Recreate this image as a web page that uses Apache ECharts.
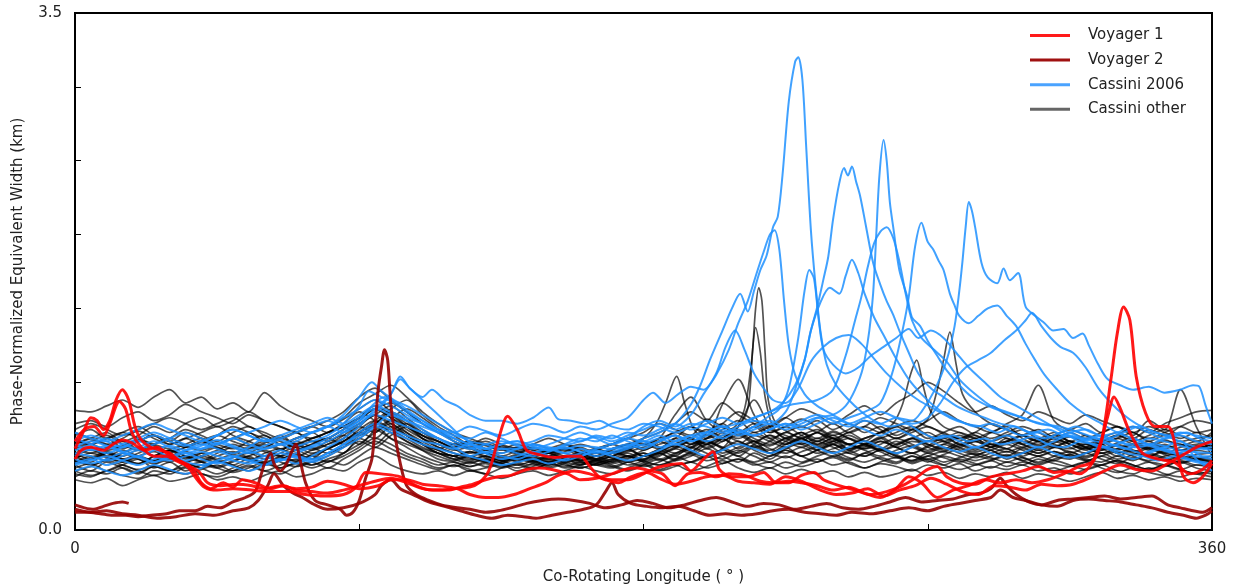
<!DOCTYPE html>
<html><head><meta charset="utf-8">
<script src="https://cdn.jsdelivr.net/npm/echarts@6/dist/echarts.min.js"></script>
<style>html,body{margin:0;padding:0;background:#fff}#c{width:1239px;height:588px}</style>
</head><body><div id="c"></div>
<script>
// ---------- DATA (longitude in degrees, width in km) ----------
const xTicks = [0, 90, 180, 270, 360];
const yTicks = [0.0, 0.5, 1.0, 1.5, 2.0, 2.5, 3.0, 3.5];
const legendNames = ["Voyager 1", "Voyager 2", "Cassini 2006", "Cassini other"];

// common longitude grid for Cassini "other" profiles
const lonGrid = [0,5,10,15,20,25,30,35,40,45,50,55,60,65,70,75,80,85,90,95,100,105,110,115,120,125,130,135,140,145,150,155,160,165,170,175,180,185,190,195,200,205,210,215,220,225,230,235,240,245,250,255,260,265,270,275,280,285,290,295,300,305,310,315,320,325,330,335,340,345,350,355,360];

const cassOther01 = [0.81,0.80,0.84,0.88,0.83,0.90,0.95,0.86,0.90,0.82,0.86,0.80,0.93,0.84,0.78,0.74,0.70,0.75,0.82,0.88,0.80,0.72,0.66,0.62,0.58,0.60,0.55,0.52,0.56,0.54,0.50,0.53,0.56,0.52,0.55,0.58,0.54,0.60,0.64,0.58,0.62,0.70,0.66,0.60,0.64,0.58,0.62,0.57,0.60,0.55,0.58,0.62,0.56,0.60,0.58,0.55,0.60,0.64,0.58,0.55,0.60,0.57,0.62,0.58,0.55,0.60,0.64,0.70,0.66,0.72,0.76,0.80,0.81];
const cassOther02 = [0.72,0.74,0.70,0.76,0.80,0.74,0.78,0.85,0.80,0.76,0.72,0.78,0.74,0.70,0.66,0.70,0.74,0.80,0.90,0.96,0.88,0.80,0.72,0.66,0.62,0.58,0.60,0.56,0.54,0.58,0.55,0.52,0.50,0.54,0.58,0.62,0.66,0.72,0.68,0.64,0.75,0.70,0.66,0.72,0.68,0.64,0.60,0.66,0.62,0.58,0.62,0.66,0.70,0.64,0.60,0.62,0.66,0.62,0.58,0.60,0.56,0.60,0.64,0.60,0.58,0.62,0.66,0.62,0.68,0.64,0.70,0.74,0.72];
const cassOther03 = [0.60,0.58,0.62,0.56,0.60,0.64,0.58,0.62,0.66,0.70,0.64,0.60,0.56,0.62,0.66,0.60,0.62,0.68,0.76,0.84,0.78,0.70,0.64,0.58,0.55,0.52,0.54,0.50,0.48,0.52,0.50,0.47,0.50,0.48,0.52,0.55,0.50,0.53,0.58,0.62,0.55,0.60,0.64,0.58,0.54,0.60,0.66,0.58,0.62,0.55,0.58,0.54,0.57,0.62,0.56,0.53,0.58,0.55,0.60,0.64,0.58,0.54,0.57,0.52,0.56,0.60,0.54,0.58,0.55,0.52,0.56,0.58,0.60];
const cassOther04 = [0.50,0.46,0.52,0.48,0.45,0.50,0.54,0.48,0.52,0.56,0.50,0.47,0.52,0.55,0.50,0.54,0.58,0.62,0.70,0.66,0.74,0.66,0.58,0.52,0.50,0.46,0.48,0.45,0.50,0.47,0.44,0.48,0.46,0.44,0.47,0.50,0.46,0.50,0.55,0.52,0.58,0.62,0.55,0.60,0.52,0.56,0.50,0.54,0.58,0.52,0.50,0.54,0.50,0.47,0.52,0.49,0.46,0.50,0.54,0.48,0.52,0.50,0.47,0.51,0.48,0.46,0.50,0.47,0.52,0.49,0.46,0.48,0.50];
const cassOther05 = [0.42,0.45,0.40,0.44,0.48,0.42,0.46,0.40,0.44,0.42,0.46,0.50,0.44,0.47,0.52,0.48,0.55,0.52,0.62,0.58,0.66,0.60,0.54,0.48,0.46,0.43,0.45,0.42,0.44,0.41,0.45,0.43,0.46,0.44,0.42,0.46,0.48,0.52,0.47,0.50,0.55,0.50,0.46,0.52,0.48,0.54,0.50,0.46,0.50,0.47,0.52,0.48,0.45,0.50,0.47,0.44,0.48,0.45,0.42,0.46,0.44,0.48,0.45,0.43,0.46,0.50,0.46,0.43,0.46,0.44,0.41,0.44,0.42];
const cassOther06 = [0.38,0.36,0.40,0.37,0.35,0.40,0.38,0.42,0.38,0.36,0.40,0.44,0.40,0.38,0.43,0.46,0.42,0.48,0.54,0.60,0.55,0.50,0.46,0.42,0.44,0.40,0.42,0.44,0.40,0.43,0.46,0.42,0.44,0.46,0.43,0.40,0.44,0.48,0.44,0.46,0.50,0.45,0.48,0.44,0.46,0.42,0.45,0.48,0.44,0.46,0.42,0.45,0.43,0.40,0.44,0.42,0.45,0.40,0.43,0.41,0.44,0.40,0.42,0.38,0.41,0.44,0.40,0.38,0.42,0.38,0.36,0.39,0.38];
const cassOther07 = [0.34,0.32,0.35,0.30,0.34,0.37,0.33,0.35,0.38,0.34,0.36,0.33,0.37,0.40,0.36,0.38,0.42,0.40,0.46,0.50,0.44,0.40,0.38,0.40,0.37,0.40,0.38,0.35,0.38,0.40,0.37,0.40,0.43,0.40,0.38,0.42,0.45,0.41,0.44,0.40,0.43,0.47,0.42,0.39,0.42,0.38,0.41,0.38,0.40,0.36,0.39,0.36,0.38,0.41,0.37,0.39,0.35,0.38,0.36,0.39,0.35,0.38,0.36,0.33,0.36,0.39,0.35,0.37,0.34,0.36,0.33,0.35,0.34];
const cassOther08 = [0.55,0.52,0.56,0.60,0.55,0.58,0.62,0.57,0.54,0.58,0.62,0.66,0.60,0.64,0.58,0.62,0.66,0.72,0.80,0.74,0.68,0.72,0.64,0.60,0.56,0.60,0.57,0.54,0.56,0.52,0.55,0.58,0.54,0.50,0.53,0.50,0.54,0.58,0.62,0.70,0.64,0.85,1.02,0.78,0.66,0.70,0.64,0.60,0.66,0.62,0.58,0.62,0.66,0.70,0.64,0.60,0.64,0.60,0.66,0.70,0.62,0.58,0.62,0.58,0.55,0.58,0.62,0.58,0.55,0.58,0.54,0.56,0.55];
const cassOther09 = [0.46,0.50,0.47,0.52,0.56,0.50,0.54,0.50,0.47,0.52,0.56,0.52,0.58,0.54,0.60,0.56,0.52,0.58,0.66,0.72,0.80,0.74,0.66,0.60,0.55,0.50,0.52,0.48,0.51,0.48,0.46,0.49,0.52,0.48,0.50,0.54,0.58,0.55,0.62,0.58,0.66,0.72,0.64,0.70,0.62,0.58,0.64,0.68,0.62,0.58,0.55,0.60,0.56,0.52,0.57,0.62,0.58,0.54,0.58,0.55,0.52,0.56,0.60,0.56,0.52,0.55,0.50,0.54,0.50,0.47,0.50,0.48,0.46];
const cassOther10 = [0.64,0.68,0.62,0.66,0.70,0.64,0.60,0.66,0.62,0.58,0.55,0.60,0.64,0.58,0.62,0.66,0.70,0.76,0.86,0.92,0.98,0.90,0.80,0.72,0.66,0.62,0.58,0.55,0.58,0.54,0.52,0.55,0.52,0.55,0.58,0.55,0.60,0.56,0.52,0.58,0.62,0.68,0.74,0.66,0.70,0.76,0.70,0.74,0.68,0.72,0.66,0.70,0.64,0.68,0.62,0.66,0.70,0.64,0.60,0.64,0.68,0.62,0.66,0.60,0.64,0.58,0.62,0.66,0.60,0.64,0.60,0.62,0.64];
const cassOther11 = [0.44,0.40,0.46,0.42,0.38,0.43,0.40,0.45,0.42,0.47,0.44,0.40,0.45,0.42,0.46,0.50,0.46,0.52,0.58,0.66,0.72,0.64,0.58,0.52,0.48,0.50,0.46,0.49,0.46,0.44,0.47,0.44,0.42,0.45,0.48,0.44,0.47,0.52,0.48,0.53,0.58,0.52,0.56,0.60,0.55,0.52,0.56,0.52,0.55,0.58,0.54,0.50,0.54,0.57,0.52,0.56,0.52,0.49,0.52,0.55,0.50,0.54,0.50,0.48,0.52,0.48,0.45,0.49,0.46,0.43,0.47,0.44,0.44];
const cassOther12 = [0.52,0.56,0.50,0.54,0.50,0.47,0.52,0.56,0.60,0.55,0.52,0.56,0.53,0.50,0.54,0.58,0.62,0.68,0.74,0.82,0.76,0.68,0.62,0.58,0.54,0.56,0.52,0.50,0.53,0.50,0.48,0.50,0.47,0.50,0.53,0.50,0.47,0.51,0.55,0.60,0.56,0.62,0.66,0.60,0.57,0.62,0.58,0.54,0.58,0.62,0.58,0.55,0.60,0.56,0.53,0.58,0.62,0.57,0.54,0.50,0.55,0.52,0.56,0.53,0.50,0.54,0.58,0.54,0.50,0.54,0.51,0.54,0.52];
const cassOther13 = [0.58,0.62,0.66,0.60,0.64,0.70,0.66,0.72,0.76,0.70,0.74,0.80,0.74,0.70,0.66,0.62,0.66,0.70,0.64,0.72,0.78,0.70,0.62,0.56,0.52,0.48,0.50,0.47,0.44,0.47,0.50,0.46,0.44,0.47,0.45,0.48,0.52,0.47,0.51,0.55,0.60,0.55,0.50,0.56,0.52,0.58,0.62,0.56,0.60,0.66,0.60,0.56,0.52,0.56,0.60,0.64,0.58,0.62,0.56,0.60,0.64,0.68,0.62,0.58,0.54,0.58,0.52,0.56,0.60,0.55,0.58,0.56,0.58];
const cassOther14 = [0.48,0.52,0.49,0.46,0.50,0.53,0.49,0.46,0.50,0.47,0.44,0.48,0.45,0.49,0.46,0.44,0.48,0.52,0.60,0.56,0.64,0.70,0.62,0.56,0.52,0.49,0.46,0.50,0.47,0.50,0.52,0.49,0.51,0.48,0.46,0.50,0.46,0.44,0.48,0.52,0.49,0.55,0.60,0.54,0.50,0.55,0.59,0.54,0.50,0.53,0.57,0.53,0.49,0.52,0.48,0.51,0.55,0.51,0.48,0.51,0.47,0.50,0.53,0.50,0.47,0.50,0.53,0.50,0.47,0.50,0.52,0.49,0.48];
const cassOther15 = [0.40,0.43,0.47,0.44,0.41,0.44,0.48,0.45,0.42,0.38,0.42,0.46,0.50,0.46,0.43,0.46,0.50,0.56,0.64,0.70,0.62,0.56,0.50,0.46,0.43,0.46,0.43,0.46,0.49,0.46,0.43,0.46,0.49,0.52,0.49,0.46,0.50,0.54,0.50,0.56,0.52,0.48,0.53,0.57,0.52,0.49,0.53,0.56,0.52,0.48,0.52,0.55,0.51,0.47,0.50,0.46,0.49,0.52,0.49,0.46,0.49,0.45,0.48,0.51,0.47,0.44,0.47,0.44,0.41,0.44,0.46,0.42,0.40];
const cassOther16 = [0.66,0.62,0.58,0.62,0.67,0.62,0.58,0.62,0.58,0.64,0.70,0.66,0.62,0.58,0.54,0.58,0.62,0.58,0.66,0.74,0.82,0.88,0.78,0.70,0.64,0.58,0.62,0.58,0.55,0.58,0.62,0.58,0.55,0.52,0.55,0.58,0.62,0.66,0.72,0.80,0.74,0.86,0.78,0.72,0.66,0.70,0.75,0.70,0.64,0.68,0.74,0.68,0.62,0.66,0.70,0.65,0.62,0.66,0.72,0.68,0.64,0.60,0.64,0.68,0.64,0.60,0.64,0.60,0.64,0.68,0.64,0.60,0.66];
const cassOther17 = [0.36,0.40,0.38,0.42,0.39,0.43,0.40,0.38,0.41,0.44,0.40,0.43,0.40,0.44,0.48,0.44,0.47,0.44,0.50,0.56,0.52,0.48,0.44,0.41,0.44,0.41,0.38,0.42,0.45,0.42,0.45,0.48,0.44,0.47,0.44,0.41,0.44,0.40,0.43,0.46,0.42,0.45,0.48,0.45,0.42,0.46,0.43,0.46,0.49,0.45,0.42,0.46,0.49,0.45,0.48,0.44,0.41,0.44,0.47,0.43,0.46,0.43,0.40,0.43,0.46,0.42,0.39,0.42,0.39,0.37,0.40,0.38,0.36];
const cassOther18 = [0.56,0.60,0.64,0.58,0.54,0.58,0.62,0.68,0.64,0.60,0.66,0.70,0.64,0.60,0.56,0.60,0.56,0.62,0.70,0.78,0.72,0.66,0.60,0.55,0.58,0.55,0.52,0.55,0.52,0.50,0.52,0.55,0.58,0.55,0.52,0.55,0.50,0.53,0.57,0.53,0.60,0.56,0.68,0.62,0.58,0.62,0.66,0.62,0.67,0.62,0.58,0.63,0.58,0.62,0.66,0.60,0.56,0.60,0.56,0.62,0.58,0.55,0.59,0.63,0.59,0.55,0.59,0.62,0.58,0.61,0.57,0.60,0.56];
const cassOther19 = [0.62,0.58,0.62,0.66,0.62,0.58,0.55,0.58,0.62,0.58,0.62,0.58,0.55,0.58,0.62,0.66,0.60,0.66,0.72,0.78,0.84,0.76,0.68,0.62,0.58,0.55,0.58,0.55,0.52,0.56,0.53,0.56,0.52,0.55,0.58,0.62,0.58,0.62,0.66,0.70,0.66,0.72,0.80,0.74,0.70,0.76,0.82,0.78,0.72,0.78,0.84,0.78,0.86,0.92,1.00,0.94,0.86,0.80,0.84,0.78,0.74,0.80,0.76,0.72,0.78,0.74,0.70,0.66,0.70,0.66,0.62,0.66,0.62];
const cassOther20 = [0.47,0.44,0.48,0.52,0.48,0.45,0.49,0.46,0.50,0.54,0.58,0.54,0.50,0.54,0.58,0.55,0.60,0.64,0.58,0.68,0.75,0.82,0.76,0.68,0.60,0.56,0.52,0.55,0.52,0.50,0.53,0.50,0.47,0.50,0.46,0.49,0.52,0.48,0.52,0.56,0.60,0.56,0.52,0.58,0.64,0.60,0.56,0.60,0.56,0.52,0.56,0.60,0.56,0.52,0.56,0.60,0.56,0.53,0.56,0.60,0.64,0.60,0.56,0.60,0.56,0.52,0.55,0.52,0.50,0.53,0.50,0.48,0.47];
const cassOther21 = [0.52,0.48,0.52,0.48,0.52,0.56,0.52,0.49,0.52,0.48,0.51,0.48,0.44,0.48,0.51,0.48,0.52,0.56,0.62,0.68,0.62,0.58,0.54,0.50,0.47,0.50,0.47,0.45,0.48,0.45,0.42,0.45,0.48,0.45,0.43,0.46,0.43,0.46,0.50,0.46,0.50,0.54,0.50,0.46,0.50,0.54,0.50,0.54,0.58,0.54,0.50,0.54,0.50,0.46,0.50,0.53,0.50,0.47,0.50,0.53,0.49,0.46,0.50,0.53,0.49,0.52,0.48,0.51,0.55,0.51,0.48,0.51,0.52];
const cassOther22 = [0.50,0.54,0.50,0.46,0.50,0.47,0.50,0.53,0.49,0.46,0.49,0.52,0.48,0.52,0.56,0.52,0.55,0.60,0.66,0.62,0.70,0.64,0.58,0.54,0.50,0.53,0.50,0.47,0.50,0.47,0.50,0.54,0.50,0.47,0.50,0.53,0.56,0.60,0.56,0.62,0.68,0.62,0.58,0.64,0.60,0.56,0.62,0.66,0.72,0.66,0.70,0.76,0.72,0.68,0.74,0.80,0.74,0.70,0.66,0.72,0.78,0.98,0.74,0.68,0.72,0.66,0.70,0.64,0.74,0.68,0.95,0.70,0.50];
const cassOther23 = [0.55,0.58,0.54,0.57,0.61,0.57,0.53,0.56,0.60,0.56,0.52,0.55,0.59,0.62,0.58,0.54,0.58,0.64,0.72,0.78,0.70,0.64,0.58,0.54,0.50,0.53,0.49,0.46,0.49,0.46,0.49,0.46,0.50,0.47,0.50,0.54,0.50,0.55,0.60,0.56,0.64,0.60,0.70,0.88,0.70,0.62,0.58,0.62,0.58,0.54,0.58,0.54,0.58,0.62,0.58,0.54,0.57,0.60,0.56,0.53,0.56,0.52,0.56,0.60,0.56,0.52,0.55,0.58,0.54,0.57,0.54,0.57,0.55];
const cassOther24 = [0.46,0.49,0.53,0.50,0.54,0.50,0.46,0.50,0.46,0.43,0.47,0.50,0.54,0.50,0.47,0.51,0.55,0.60,0.68,0.74,0.68,0.62,0.56,0.52,0.48,0.45,0.48,0.45,0.42,0.45,0.48,0.45,0.42,0.45,0.48,0.52,0.48,0.52,0.56,0.62,0.58,0.64,0.60,0.56,0.60,0.66,0.62,0.58,0.62,0.58,0.55,0.58,0.62,0.58,0.54,0.58,0.54,0.51,0.54,0.58,0.54,0.50,0.53,0.49,0.52,0.56,0.52,0.48,0.51,0.48,0.45,0.48,0.46];
const cassOther25 = [0.68,0.72,0.68,0.64,0.68,0.72,0.76,0.72,0.68,0.72,0.76,0.70,0.66,0.62,0.66,0.70,0.66,0.70,0.76,0.82,0.86,0.80,0.72,0.66,0.60,0.56,0.58,0.55,0.52,0.55,0.52,0.49,0.52,0.55,0.52,0.55,0.58,0.62,0.78,0.90,0.74,0.66,0.62,0.66,0.62,0.66,0.70,0.66,0.62,0.66,0.70,0.66,0.70,0.74,0.70,0.66,0.62,0.66,0.62,0.66,0.70,0.66,0.62,0.66,0.62,0.66,0.70,0.66,0.62,0.66,0.70,0.66,0.68];
const cassOther26 = [0.40,0.37,0.40,0.44,0.40,0.37,0.40,0.43,0.46,0.42,0.39,0.42,0.46,0.42,0.45,0.42,0.46,0.50,0.56,0.62,0.58,0.52,0.48,0.44,0.46,0.43,0.46,0.43,0.46,0.49,0.46,0.50,0.47,0.44,0.47,0.50,0.47,0.44,0.47,0.51,0.47,0.50,0.54,0.50,0.46,0.50,0.46,0.50,0.53,0.49,0.46,0.49,0.46,0.50,0.46,0.50,0.47,0.44,0.47,0.50,0.47,0.44,0.47,0.44,0.41,0.44,0.47,0.44,0.41,0.44,0.41,0.38,0.40];

// Cassini "other" profiles with narrow spikes, as [longitude, width] pairs
const cassOtherSpike1 = [[0,0.58],[5,0.62],[10,0.58],[15,0.55],[20,0.60],[25,0.64],[30,0.60],[35,0.56],[40,0.60],[45,0.64],[50,0.60],[55,0.57],[60,0.60],[65,0.55],[70,0.58],[75,0.62],[80,0.66],[85,0.70],[90,0.76],[95,0.82],[100,0.76],[105,0.70],[110,0.64],[115,0.60],[120,0.56],[125,0.58],[130,0.54],[135,0.57],[140,0.53],[145,0.56],[150,0.52],[155,0.55],[160,0.52],[165,0.50],[170,0.54],[175,0.58],[180,0.55],[185,0.60],[190,0.66],[195,0.62],[200,0.58],[205,0.62],[210,0.70],[213,0.82],[214.5,1.20],[215.5,1.50],[216.5,1.64],[217.5,1.55],[218.5,1.20],[219.5,0.88],[222,0.72],[226,0.66],[230,0.62],[235,0.66],[240,0.60],[245,0.64],[250,0.60],[255,0.66],[260,0.62],[265,0.68],[270,0.75],[273,0.95],[275,1.15],[277,1.34],[279,1.12],[281,0.92],[285,0.80],[290,0.72],[295,0.68],[300,0.64],[305,0.60],[310,0.64],[315,0.60],[320,0.56],[325,0.60],[330,0.64],[335,0.60],[340,0.56],[345,0.60],[350,0.58],[355,0.55],[360,0.58]];
const cassOtherSpike2 = [[0,0.45],[5,0.48],[10,0.52],[15,0.48],[20,0.45],[25,0.50],[30,0.54],[35,0.50],[40,0.46],[45,0.50],[50,0.53],[55,0.49],[60,0.46],[65,0.50],[70,0.54],[75,0.50],[80,0.55],[85,0.60],[90,0.66],[95,0.72],[100,0.66],[105,0.60],[110,0.55],[115,0.52],[120,0.50],[125,0.47],[130,0.50],[135,0.47],[140,0.50],[145,0.47],[150,0.44],[155,0.48],[160,0.45],[165,0.48],[170,0.52],[175,0.56],[180,0.62],[184,0.72],[187,0.86],[190.5,1.04],[193,0.86],[196,0.68],[200,0.62],[205,0.66],[209,0.70],[212,0.82],[214,1.10],[215.5,1.37],[217,1.20],[218.5,0.90],[221,0.70],[225,0.62],[230,0.66],[235,0.60],[240,0.64],[245,0.58],[250,0.62],[255,0.66],[259,0.72],[262,0.85],[264.5,1.05],[266.5,1.15],[268.5,0.98],[271,0.80],[275,0.70],[280,0.66],[285,0.62],[290,0.66],[295,0.62],[300,0.58],[305,0.62],[310,0.58],[315,0.55],[320,0.58],[325,0.54],[330,0.57],[335,0.53],[340,0.56],[345,0.52],[350,0.50],[355,0.47],[360,0.45]];

// Cassini 2006 profiles
const cass2006a = [[0,0.50],[5,0.55],[10,0.52],[15,0.56],[20,0.60],[25,0.55],[30,0.50],[35,0.54],[40,0.58],[45,0.55],[50,0.52],[55,0.56],[60,0.62],[65,0.58],[70,0.60],[75,0.66],[80,0.70],[85,0.78],[90,0.90],[94,1.00],[97,0.94],[101,0.88],[105,0.84],[110,0.78],[115,0.72],[120,0.66],[125,0.60],[130,0.58],[135,0.55],[140,0.55],[145,0.58],[150,0.56],[155,0.55],[160,0.57],[165,0.56],[170,0.55],[175,0.57],[180,0.62],[185,0.66],[190,0.72],[195,0.85],[198,0.98],[201,1.15],[205,1.35],[208,1.50],[210.6,1.60],[213,1.48],[215,1.62],[217,1.76],[219,1.86],[221,2.05],[222.5,2.12],[224,2.40],[226,2.90],[228,3.17],[229,3.20],[230.3,3.05],[231.5,2.60],[233,2.03],[234.5,1.65],[236,1.35],[238,1.12],[241,0.98],[245,0.88],[249,0.80],[253,0.74],[258,0.70],[263,0.72],[268,0.66],[273,0.62],[278,0.64],[283,0.60],[288,0.62],[293,0.58],[298,0.60],[303,0.63],[308,0.58],[313,0.56],[318,0.60],[323,0.62],[328,0.58],[333,0.55],[338,0.58],[343,0.55],[348,0.52],[353,0.54],[357,0.50],[360,0.50]];
const cass2006b = [[0,0.62],[5,0.58],[10,0.55],[15,0.58],[20,0.62],[25,0.66],[30,0.62],[35,0.58],[40,0.55],[45,0.58],[50,0.62],[55,0.58],[60,0.55],[65,0.58],[70,0.62],[75,0.66],[80,0.70],[85,0.66],[90,0.72],[95,0.78],[100,0.74],[105,0.70],[110,0.66],[115,0.62],[120,0.58],[125,0.55],[130,0.58],[135,0.60],[140,0.57],[145,0.55],[150,0.58],[155,0.62],[160,0.66],[165,0.62],[170,0.58],[175,0.62],[180,0.70],[185,0.74],[190,0.70],[195,0.78],[199,0.92],[203,1.05],[207,1.22],[210,1.40],[213,1.55],[216,1.75],[218,1.88],[220,2.00],[221.5,2.03],[223,1.90],[224.5,1.55],[226,1.25],[228,1.05],[231,0.92],[235,0.84],[240,0.78],[245,0.72],[250,0.68],[255,0.64],[260,0.68],[265,0.64],[270,0.60],[275,0.64],[280,0.60],[285,0.56],[290,0.60],[295,0.64],[300,0.60],[305,0.56],[310,0.60],[315,0.64],[320,0.60],[325,0.56],[330,0.58],[335,0.62],[340,0.58],[345,0.62],[350,0.66],[355,0.64],[360,0.62]];
const cass2006c = [[0,0.45],[5,0.48],[10,0.44],[15,0.47],[20,0.50],[25,0.46],[30,0.49],[35,0.52],[40,0.48],[45,0.45],[50,0.49],[55,0.53],[60,0.50],[65,0.47],[70,0.52],[75,0.56],[80,0.60],[85,0.66],[90,0.74],[95,0.80],[100,0.92],[103,1.04],[106,0.96],[110,0.90],[113,0.95],[117,0.88],[121,0.84],[125,0.78],[130,0.74],[135,0.74],[140,0.72],[145,0.76],[150,0.83],[153,0.75],[157,0.74],[162,0.72],[166,0.74],[170,0.70],[175,0.68],[180,0.72],[185,0.70],[190,0.66],[195,0.70],[200,0.74],[205,0.70],[210,0.72],[215,0.76],[220,0.80],[224,0.86],[228,0.98],[231,1.15],[233,1.35],[235,1.51],[237,1.70],[238.5,1.85],[240,2.10],[242,2.35],[243.5,2.45],[244.7,2.40],[246,2.46],[247.3,2.36],[248.6,2.26],[250.5,2.05],[252.7,1.81],[255,1.66],[257,1.55],[259,1.46],[261,1.35],[264,1.20],[267,1.06],[271,0.96],[275,0.90],[279,0.84],[283,0.80],[288,0.76],[293,0.72],[298,0.70],[303,0.66],[308,0.68],[313,0.64],[318,0.62],[323,0.60],[328,0.58],[333,0.55],[338,0.52],[343,0.55],[348,0.52],[353,0.48],[357,0.46],[360,0.45]];
const cass2006d = [[0,0.52],[5,0.50],[10,0.47],[15,0.50],[20,0.54],[25,0.50],[30,0.47],[35,0.50],[40,0.53],[45,0.50],[50,0.47],[55,0.45],[60,0.48],[65,0.52],[70,0.49],[75,0.46],[80,0.50],[85,0.56],[90,0.62],[95,0.70],[100,0.78],[105,0.74],[110,0.68],[115,0.62],[120,0.56],[125,0.50],[130,0.47],[135,0.44],[140,0.46],[145,0.48],[150,0.45],[155,0.48],[160,0.52],[165,0.55],[170,0.58],[175,0.62],[180,0.60],[185,0.64],[190,0.60],[195,0.64],[200,0.66],[205,0.62],[210,0.66],[215,0.64],[220,0.68],[225,0.72],[230,0.70],[235,0.76],[240,0.78],[244,0.84],[247,0.95],[249.5,1.10],[251.5,1.35],[252.7,1.60],[253.7,2.00],[254.7,2.40],[256,2.64],[257,2.50],[258,2.22],[259.2,2.03],[261,1.76],[263.5,1.58],[265,1.44],[267.6,1.38],[270,1.28],[273,1.18],[276,1.08],[280,0.98],[284,0.90],[289,0.84],[294,0.80],[300,0.76],[306,0.72],[312,0.70],[318,0.66],[324,0.62],[330,0.60],[336,0.56],[342,0.58],[348,0.55],[354,0.53],[360,0.52]];
const cass2006e = [[0,0.66],[5,0.62],[10,0.60],[15,0.64],[20,0.68],[25,0.72],[30,0.68],[35,0.64],[40,0.60],[45,0.64],[50,0.68],[55,0.64],[60,0.60],[65,0.62],[70,0.66],[75,0.70],[80,0.74],[85,0.70],[90,0.76],[95,0.82],[100,0.78],[105,0.74],[110,0.70],[115,0.66],[120,0.62],[125,0.58],[130,0.55],[135,0.58],[140,0.60],[145,0.56],[150,0.54],[155,0.58],[160,0.62],[165,0.60],[170,0.64],[175,0.60],[180,0.57],[185,0.60],[190,0.64],[195,0.60],[200,0.66],[205,0.70],[210,0.66],[215,0.70],[220,0.74],[225,0.70],[230,0.74],[235,0.78],[240,0.74],[245,0.70],[250,0.74],[255,0.72],[260,0.76],[265,0.74],[268,0.80],[272,0.94],[276,1.15],[278.5,1.38],[280,1.62],[281,1.82],[282,2.05],[283,2.22],[284,2.16],[285,2.05],[287,1.81],[289,1.71],[292,1.67],[294,1.77],[296,1.69],[298.6,1.74],[301,1.51],[304.6,1.44],[307,1.40],[309.7,1.35],[313,1.36],[316,1.30],[319,1.33],[321,1.25],[324,1.12],[327,1.02],[331,0.98],[335,0.95],[340,0.97],[345,0.93],[350,0.95],[354,0.98],[356,0.97],[358,0.84],[360,0.72]];
const cass2006f = [[0,0.56],[5,0.60],[10,0.57],[15,0.53],[20,0.56],[25,0.60],[30,0.56],[35,0.52],[40,0.55],[45,0.59],[50,0.56],[55,0.52],[60,0.55],[65,0.58],[70,0.54],[75,0.57],[80,0.62],[85,0.68],[90,0.74],[94,0.84],[98,0.90],[102,0.86],[106,0.80],[110,0.74],[115,0.68],[120,0.64],[125,0.62],[130,0.66],[135,0.62],[140,0.58],[145,0.60],[150,0.64],[155,0.62],[160,0.60],[165,0.64],[170,0.62],[175,0.66],[180,0.64],[185,0.68],[190,0.72],[195,0.68],[200,0.72],[205,0.76],[210,0.72],[215,0.76],[220,0.80],[225,0.84],[230,0.86],[235,0.88],[240,0.95],[244,1.18],[247,1.42],[249,1.58],[251,1.78],[253,1.94],[255,2.02],[257,2.05],[259,1.98],[261,1.82],[263,1.60],[265,1.42],[268,1.30],[272,1.22],[276,1.14],[280,1.02],[285,0.92],[290,0.84],[295,0.80],[300,0.76],[305,0.72],[310,0.70],[315,0.66],[320,0.62],[325,0.64],[330,0.60],[335,0.58],[340,0.62],[345,0.60],[350,0.57],[355,0.55],[360,0.56]];
const cass2006g = [[0,0.48],[5,0.45],[10,0.48],[15,0.52],[20,0.49],[25,0.46],[30,0.50],[35,0.46],[40,0.44],[45,0.47],[50,0.50],[55,0.47],[60,0.44],[65,0.47],[70,0.50],[75,0.48],[80,0.52],[85,0.58],[90,0.66],[95,0.72],[100,0.68],[105,0.64],[110,0.60],[115,0.58],[120,0.55],[125,0.58],[130,0.55],[135,0.52],[140,0.55],[145,0.58],[150,0.55],[155,0.52],[160,0.55],[165,0.52],[170,0.55],[175,0.58],[180,0.55],[185,0.60],[190,0.64],[195,0.60],[200,0.64],[205,0.68],[210,0.64],[215,0.68],[220,0.72],[225,0.68],[230,0.72],[235,0.76],[240,0.72],[245,0.76],[250,0.80],[255,0.86],[259,1.08],[262,1.35],[264,1.58],[266,1.92],[268,2.08],[270,1.95],[271.7,1.90],[273.5,1.82],[275,1.76],[277,1.60],[278.5,1.52],[280,1.45],[283,1.40],[286,1.45],[289,1.50],[292,1.52],[295,1.45],[298,1.38],[301,1.26],[304,1.15],[307,1.05],[311,0.95],[315,0.86],[320,0.78],[325,0.72],[330,0.66],[335,0.62],[340,0.58],[345,0.55],[350,0.52],[355,0.50],[360,0.48]];
const cass2006h = [[0,0.58],[5,0.54],[10,0.57],[15,0.53],[20,0.50],[25,0.54],[30,0.57],[35,0.54],[40,0.57],[45,0.61],[50,0.57],[55,0.54],[60,0.57],[65,0.61],[70,0.57],[75,0.60],[80,0.64],[85,0.72],[90,0.84],[93,0.94],[97,0.90],[101,0.86],[105,0.80],[110,0.74],[115,0.68],[120,0.62],[125,0.58],[130,0.55],[135,0.58],[140,0.60],[145,0.57],[150,0.54],[155,0.57],[160,0.60],[165,0.63],[170,0.60],[175,0.64],[180,0.68],[185,0.72],[190,0.68],[195,0.72],[200,0.70],[205,0.66],[210,0.70],[215,0.74],[220,0.72],[225,0.80],[228,0.95],[231,1.15],[233,1.35],[236,1.54],[239,1.64],[242,1.60],[244,1.72],[246,1.83],[248,1.74],[250,1.60],[253,1.44],[256,1.32],[260,1.16],[264,1.02],[268,0.92],[272,0.84],[276,0.78],[280,0.74],[285,0.70],[290,0.72],[295,0.68],[300,0.64],[305,0.66],[310,0.62],[315,0.66],[320,0.68],[325,0.64],[330,0.66],[335,0.70],[340,0.66],[345,0.62],[350,0.64],[355,0.60],[360,0.58]];
const cass2006i = [[0,0.44],[5,0.47],[10,0.50],[15,0.47],[20,0.44],[25,0.48],[30,0.51],[35,0.47],[40,0.50],[45,0.53],[50,0.50],[55,0.47],[60,0.50],[65,0.54],[70,0.50],[75,0.47],[80,0.52],[85,0.58],[90,0.64],[95,0.70],[100,0.66],[105,0.62],[110,0.58],[115,0.55],[120,0.52],[125,0.50],[130,0.53],[135,0.50],[140,0.48],[145,0.52],[150,0.55],[155,0.52],[160,0.50],[165,0.54],[170,0.52],[175,0.55],[180,0.58],[185,0.62],[190,0.58],[195,0.62],[200,0.66],[205,0.70],[210,0.66],[215,0.70],[219,0.76],[223,0.82],[226,0.96],[229,1.30],[231,1.62],[232.5,1.76],[234,1.70],[235.5,1.42],[237,1.22],[240,1.12],[244,1.06],[248,1.10],[252,1.18],[256,1.24],[260,1.30],[264,1.36],[267,1.30],[271,1.35],[275,1.30],[279,1.20],[283,1.10],[288,1.00],[293,0.90],[298,0.84],[303,0.78],[308,0.72],[313,0.66],[318,0.60],[323,0.58],[328,0.55],[333,0.52],[338,0.50],[343,0.47],[348,0.50],[353,0.47],[357,0.45],[360,0.44]];
const cass2006j = [[0,0.54],[5,0.58],[10,0.62],[15,0.58],[20,0.55],[25,0.58],[30,0.62],[35,0.66],[40,0.62],[45,0.58],[50,0.62],[55,0.66],[60,0.70],[65,0.74],[70,0.70],[75,0.66],[80,0.70],[85,0.76],[90,0.82],[95,0.88],[100,0.84],[105,0.78],[110,0.72],[115,0.66],[120,0.60],[125,0.56],[130,0.52],[135,0.55],[140,0.52],[145,0.50],[150,0.53],[155,0.56],[160,0.53],[165,0.50],[170,0.53],[175,0.56],[180,0.60],[185,0.56],[190,0.60],[195,0.64],[200,0.60],[205,0.64],[210,0.68],[215,0.64],[220,0.68],[225,0.72],[230,0.68],[235,0.72],[240,0.76],[245,0.72],[250,0.76],[255,0.80],[260,0.76],[265,0.72],[270,0.76],[274,0.86],[278,1.00],[282,1.10],[286,1.15],[290,1.20],[294,1.28],[298,1.35],[301,1.42],[303,1.47],[306,1.38],[309,1.30],[312,1.24],[316,1.20],[320,1.10],[324,0.96],[328,0.86],[332,0.78],[336,0.72],[340,0.68],[345,0.64],[350,0.60],[355,0.56],[360,0.54]];
const cass2006k = [[0,0.60],[5,0.64],[10,0.60],[15,0.56],[20,0.60],[25,0.64],[30,0.60],[35,0.57],[40,0.60],[45,0.64],[50,0.68],[55,0.64],[60,0.60],[65,0.64],[70,0.68],[75,0.72],[80,0.76],[85,0.72],[90,0.78],[95,0.84],[100,0.80],[105,0.76],[110,0.72],[115,0.68],[120,0.66],[125,0.70],[130,0.67],[135,0.64],[140,0.68],[145,0.72],[150,0.70],[155,0.66],[160,0.70],[165,0.68],[170,0.72],[175,0.76],[180,0.88],[183,0.93],[187,0.86],[191,0.92],[195,0.97],[199,0.95],[203,1.06],[206,1.24],[209,1.35],[212,1.22],[215,1.06],[218,0.96],[221,0.88],[225,0.86],[229,0.96],[233,1.14],[237,1.24],[241,1.30],[245,1.32],[249,1.26],[253,1.16],[257,1.06],[262,0.96],[267,0.88],[272,0.82],[277,0.76],[282,0.72],[287,0.70],[292,0.66],[297,0.70],[302,0.66],[307,0.62],[312,0.66],[317,0.70],[322,0.66],[327,0.62],[332,0.66],[337,0.70],[342,0.66],[347,0.64],[352,0.66],[356,0.62],[360,0.60]];
const cass2006l = [[0,0.40],[5,0.43],[10,0.40],[15,0.37],[20,0.40],[25,0.44],[30,0.41],[35,0.38],[40,0.42],[45,0.46],[50,0.43],[55,0.40],[60,0.44],[65,0.48],[70,0.45],[75,0.50],[80,0.56],[85,0.62],[90,0.70],[95,0.82],[100,0.92],[103,1.02],[106,0.96],[110,0.88],[114,0.80],[118,0.72],[122,0.64],[126,0.58],[130,0.52],[135,0.48],[140,0.50],[145,0.53],[150,0.50],[155,0.47],[160,0.50],[165,0.53],[170,0.50],[175,0.47],[180,0.50],[185,0.54],[190,0.58],[195,0.54],[200,0.50],[205,0.54],[210,0.58],[215,0.55],[220,0.52],[225,0.56],[230,0.60],[235,0.56],[240,0.52],[245,0.56],[250,0.60],[255,0.56],[260,0.52],[265,0.56],[270,0.60],[275,0.56],[280,0.53],[285,0.56],[290,0.52],[295,0.49],[300,0.52],[305,0.56],[310,0.52],[315,0.49],[320,0.52],[325,0.56],[330,0.52],[335,0.48],[340,0.52],[345,0.56],[350,0.60],[355,0.48],[360,0.40]];

// Voyager 1 profiles
const voy1a = [[0,0.55],[3,0.68],[5,0.76],[7,0.74],[9,0.68],[11,0.74],[13,0.88],[15,0.95],[17,0.88],[19,0.70],[21,0.61],[24,0.56],[27,0.54],[30,0.52],[33,0.47],[36,0.44],[38,0.39],[40,0.32],[43,0.28],[47,0.32],[50,0.29],[53,0.34],[57,0.32],[62,0.28],[66,0.30],[70,0.27],[75,0.26],[80,0.25],[85,0.27],[90,0.30],[95,0.33],[100,0.35],[105,0.32],[110,0.28],[115,0.27],[120,0.28],[125,0.29],[128,0.32],[131,0.40],[134,0.61],[137,0.77],[140,0.68],[143,0.54],[147,0.51],[152,0.49],[156,0.50],[160,0.50],[163,0.43],[166,0.36],[170,0.34],[175,0.34],[180,0.38],[184,0.42],[188,0.44],[192,0.45],[195,0.40],[199,0.48],[202,0.53],[204,0.41],[208,0.36],[213,0.36],[218,0.39],[222,0.32],[226,0.32],[230,0.37],[234,0.39],[237,0.34],[242,0.30],[247,0.27],[252,0.24],[257,0.26],[262,0.30],[266,0.35],[270,0.41],[273,0.43],[276,0.36],[280,0.32],[285,0.31],[290,0.36],[295,0.38],[300,0.40],[305,0.43],[310,0.39],[314,0.40],[318,0.38],[322,0.45],[325,0.60],[328,1.02],[330,1.33],[332,1.51],[334,1.42],[336,1.04],[339,0.79],[342,0.70],[346,0.70],[349,0.52],[351,0.36],[354,0.32],[357,0.36],[360,0.45]];
const voy1b = [[0,0.48],[2,0.54],[5,0.56],[9,0.54],[12,0.58],[15,0.61],[18,0.59],[22,0.54],[26,0.56],[29,0.52],[33,0.47],[36,0.42],[38,0.36],[41,0.29],[45,0.27],[50,0.28],[56,0.27],[62,0.26],[68,0.26],[73,0.24],[79,0.23],[85,0.24],[89,0.29],[92,0.39],[97,0.38],[103,0.36],[108,0.30],[113,0.27],[118,0.27],[122,0.29],[126,0.31],[130,0.34],[134,0.36],[138,0.37],[143,0.41],[147,0.42],[151,0.41],[156,0.38],[160,0.34],[165,0.35],[170,0.38],[174,0.41],[178,0.42],[182,0.40],[186,0.38],[190,0.30],[194,0.38],[198,0.39],[203,0.36],[207,0.38],[212,0.37],[217,0.33],[221,0.32],[226,0.33],[230,0.32],[235,0.30],[240,0.27],[245,0.29],[250,0.25],[255,0.22],[260,0.28],[264,0.36],[268,0.32],[273,0.22],[278,0.27],[283,0.30],[288,0.34],[293,0.32],[298,0.34],[303,0.32],[308,0.34],[313,0.38],[318,0.43],[322,0.46],[325,0.61],[327,0.77],[329,0.90],[331,0.82],[334,0.66],[338,0.52],[343,0.48],[348,0.46],[353,0.38],[357,0.41],[360,0.47]];
const voy1c = [[0,0.60],[3,0.68],[6,0.70],[9,0.64],[11,0.72],[13,0.84],[14,0.87],[16,0.82],[18,0.66],[21,0.56],[25,0.50],[29,0.50],[32,0.47],[35,0.44],[39,0.40],[42,0.32],[46,0.30],[51,0.31],[56,0.30],[60,0.28],[65,0.30],[70,0.28],[75,0.29],[80,0.33],[85,0.31],[90,0.28],[96,0.30],[100,0.34],[105,0.34],[110,0.31],[115,0.30],[121,0.28],[125,0.24],[130,0.22],[134,0.22],[139,0.24],[144,0.28],[149,0.32],[153,0.37],[158,0.40],[163,0.38],[168,0.34],[172,0.32],[176,0.36],[181,0.39],[185,0.35],[190,0.31],[195,0.33],[200,0.36],[205,0.37],[210,0.33],[215,0.32],[220,0.31],[225,0.36],[230,0.33],[236,0.27],[241,0.24],[246,0.25],[251,0.28],[256,0.23],[261,0.27],[266,0.30],[271,0.35],[276,0.31],[281,0.26],[286,0.24],[291,0.30],[296,0.29],[301,0.27],[306,0.31],[311,0.30],[316,0.31],[321,0.35],[326,0.40],[331,0.44],[336,0.41],[341,0.40],[346,0.45],[351,0.51],[355,0.56],[360,0.60]];

// Voyager 2 profiles
const voy2a = [[0,0.17],[3,0.15],[6,0.14],[9,0.16],[12,0.18],[15,0.19],[17,0.18]];
const voy2b = [[0,0.12],[4,0.12],[8,0.11],[12,0.10],[16,0.10],[20,0.09],[24,0.10],[29,0.11],[33,0.13],[38,0.13],[42,0.16],[46,0.15],[50,0.19],[54,0.22],[57,0.26],[59,0.38],[60,0.45],[62,0.52],[63,0.45],[65,0.40],[67,0.45],[69,0.55],[70,0.58],[71,0.50],[73,0.32],[76,0.20],[80,0.17],[84,0.14],[86,0.10],[88,0.12],[90,0.20],[92,0.35],[94,0.48],[95,0.70],[96,0.95],[97,1.10],[98,1.22],[99,1.15],[100,0.85],[101,0.68],[103,0.45],[105,0.30],[108,0.24],[112,0.20],[116,0.17],[121,0.15],[125,0.14],[130,0.12],[134,0.13],[138,0.15],[143,0.18],[148,0.20],[153,0.21],[158,0.20],[163,0.18],[168,0.15],[173,0.17],[178,0.20],[183,0.18],[188,0.15],[193,0.17],[198,0.20],[203,0.22],[208,0.19],[213,0.16],[218,0.18],[223,0.17],[228,0.14],[233,0.16],[238,0.18],[243,0.15],[248,0.14],[253,0.16],[258,0.19],[263,0.22],[268,0.19],[273,0.20],[278,0.21],[283,0.24],[287,0.25],[290,0.28],[293,0.35],[295,0.30],[298,0.24],[302,0.19],[306,0.17],[311,0.20],[316,0.21],[321,0.22],[326,0.23],[331,0.21],[336,0.22],[341,0.23],[346,0.17],[350,0.15],[354,0.13],[357,0.12],[360,0.15]];
const voy2c = [[0,0.14],[5,0.12],[10,0.13],[15,0.11],[20,0.10],[26,0.08],[32,0.09],[38,0.11],[44,0.10],[50,0.13],[55,0.15],[58,0.20],[61,0.30],[63,0.38],[66,0.30],[69,0.25],[72,0.22],[76,0.17],[80,0.14],[85,0.15],[90,0.18],[95,0.24],[97,0.30],[100,0.34],[103,0.28],[107,0.24],[112,0.19],[117,0.16],[122,0.13],[127,0.10],[132,0.08],[137,0.10],[142,0.09],[146,0.08],[151,0.10],[156,0.12],[161,0.14],[165,0.17],[168,0.26],[170,0.32],[172,0.24],[176,0.18],[181,0.16],[186,0.15],[191,0.16],[196,0.13],[201,0.10],[206,0.11],[211,0.10],[216,0.11],[221,0.13],[226,0.14],[231,0.12],[236,0.11],[241,0.10],[246,0.12],[252,0.11],[258,0.13],[264,0.15],[270,0.13],[275,0.16],[280,0.18],[285,0.20],[290,0.22],[293,0.27],[297,0.22],[301,0.20],[306,0.17],[311,0.16],[316,0.20],[321,0.21],[326,0.20],[331,0.19],[336,0.17],[341,0.15],[346,0.12],[351,0.10],[355,0.08],[358,0.10],[360,0.13]];

// ---------- BUILD ----------
const otherGrid = [cassOther01,cassOther02,cassOther03,cassOther04,cassOther05,cassOther06,cassOther07,cassOther08,cassOther09,cassOther10,cassOther11,cassOther12,cassOther13,cassOther14,cassOther15,cassOther16,cassOther17,cassOther18,cassOther19,cassOther20,cassOther21,cassOther22,cassOther23,cassOther24,cassOther25,cassOther26];
const otherPairs = [cassOtherSpike1, cassOtherSpike2];
const c2006 = [cass2006a,cass2006b,cass2006c,cass2006d,cass2006e,cass2006f,cass2006g,cass2006h,cass2006i,cass2006j,cass2006k,cass2006l];
const v1 = [voy1a, voy1b, voy1c];
const v2 = [voy2a, voy2b, voy2c];

const FONT = 'DejaVu Sans';
const COL = {
  "Voyager 1": 'rgba(255,0,0,0.9)',
  "Voyager 2": 'rgba(150,0,0,0.9)',
  "Cassini 2006": 'rgba(30,144,255,0.85)',
  "Cassini other": 'rgba(0,0,0,0.68)'
};
const WID = {"Voyager 1": 3, "Voyager 2": 3, "Cassini 2006": 2, "Cassini other": 1.7};

function mk(name, data) {
  return {
    type: 'line', name: name, data: data, symbol: 'none', showSymbol: false,
    smooth: 0.3, animation: false, silent: true,
    lineStyle: {color: COL[name], width: WID[name]},
    itemStyle: {color: COL[name]}
  };
}
const series = [];
otherGrid.forEach(arr => series.push(mk("Cassini other", arr.map((v, i) => [lonGrid[i], v]))));
otherPairs.forEach(arr => series.push(mk("Cassini other", arr)));
c2006.forEach(arr => series.push(mk("Cassini 2006", arr)));
v2.forEach(arr => series.push(mk("Voyager 2", arr)));
v1.forEach(arr => series.push(mk("Voyager 1", arr)));

const LEG_COL = {"Voyager 1": '#ff1a1a', "Voyager 2": '#a01010', "Cassini 2006": '#4aa3ff', "Cassini other": '#666666'};
const chart = echarts.init(document.getElementById('c'), null, {renderer: 'canvas'});
chart.setOption({
  animation: false,
  backgroundColor: '#fff',
  grid: {left: 75, right: 27, top: 13, bottom: 58, containLabel: false, outerBoundsMode: 'none',
    show: true, borderColor: '#000', borderWidth: 2, backgroundColor: 'transparent'},
  legend: {
    data: legendNames.map(n => ({name: n, icon: 'rect', itemStyle: {color: LEG_COL[n]}})),
    orient: 'vertical', left: 1025, top: 23, padding: 5,
    itemWidth: 40, itemHeight: 3, itemGap: 9.6,
    textStyle: {fontFamily: FONT, fontSize: 15, color: '#222', padding: [0, 0, 0, 13]},
    selectedMode: false
  },
  xAxis: {
    type: 'value', min: xTicks[0], max: xTicks[xTicks.length - 1], interval: 90,
    name: 'Co-Rotating Longitude ( ° )', nameLocation: 'middle', nameGap: 40,
    nameTextStyle: {fontFamily: FONT, fontSize: 15, color: '#222'},
    axisLine: {show: true, lineStyle: {color: '#000', width: 2}},
    axisTick: {show: true, inside: true, length: 6, lineStyle: {color: '#000', width: 1}},
    splitLine: {show: false},
    axisLabel: {fontFamily: FONT, fontSize: 15, color: '#222', margin: 12,
      formatter: v => (v === xTicks[0] || v === xTicks[xTicks.length - 1]) ? String(v) : ''}
  },
  yAxis: {
    type: 'value', min: yTicks[0], max: yTicks[yTicks.length - 1], interval: 0.5,
    name: 'Phase-Normalized Equivalent Width (km)', nameLocation: 'middle', nameGap: 49,
    nameTextStyle: {fontFamily: FONT, fontSize: 15, color: '#222'},
    axisLine: {show: true, lineStyle: {color: '#000', width: 2}},
    axisTick: {show: true, inside: true, length: 6, lineStyle: {color: '#000', width: 1}},
    splitLine: {show: false},
    axisLabel: {fontFamily: FONT, fontSize: 15, color: '#222', margin: 13,
      formatter: v => (Math.abs(v - yTicks[0]) < 1e-9 || Math.abs(v - yTicks[yTicks.length - 1]) < 1e-9) ? v.toFixed(1) : ''}
  },
  series: series
});
</script>
</body></html>
